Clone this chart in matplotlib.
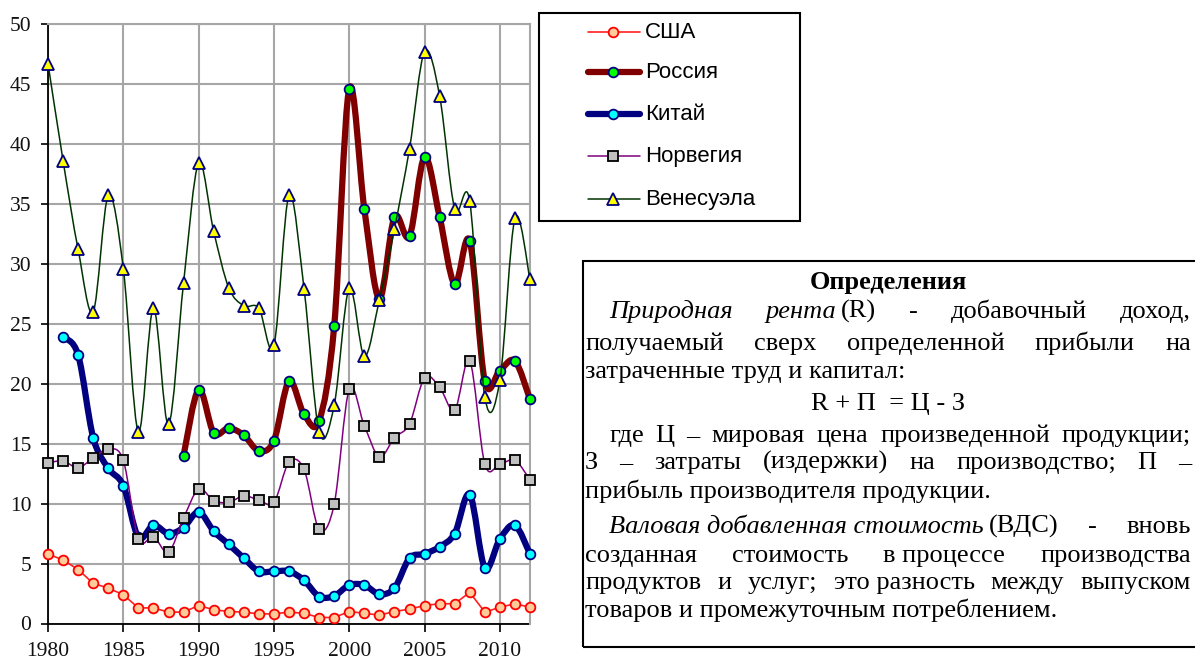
import numpy as np
import matplotlib
matplotlib.use("Agg")
import matplotlib.pyplot as plt
from matplotlib.path import Path
from matplotlib.patches import PathPatch, Rectangle
from matplotlib.lines import Line2D

W, H = 1195, 663
plt.rcParams["font.family"] = ["Liberation Serif", "DejaVu Serif"]

# --- data ---
years = list(range(1980, 2013))
usa = [5.8, 5.3, 4.5, 3.35, 2.95, 2.4, 1.3, 1.3, 0.95, 0.95, 1.5, 1.15, 1.0, 0.95, 0.8, 0.8,
       0.95, 0.85, 0.5, 0.5, 1.0, 0.85, 0.7, 1.0, 1.2, 1.5, 1.65, 1.65, 2.6, 0.95, 1.35, 1.65, 1.35]
russia_years = list(range(1989, 2013))
russia = [14.0, 19.5, 15.9, 16.3, 15.7, 14.4, 15.25, 20.2, 17.45, 16.9, 24.8, 44.6, 34.6, 27.1,
          33.9, 32.3, 38.9, 33.9, 28.3, 31.9, 20.2, 21.1, 21.9, 18.7]
china_years = list(range(1981, 2013))
china = [23.9, 22.4, 15.5, 12.95, 11.5, 7.2, 8.2, 7.5, 8.0, 9.3, 7.7, 6.6, 5.45, 4.35, 4.35, 4.35,
         3.6, 2.25, 2.3, 3.2, 3.2, 2.45, 2.95, 5.45, 5.8, 6.4, 7.5, 10.75, 4.65, 7.05, 8.2, 5.8]
norway = [13.4, 13.55, 13.0, 13.8, 14.55, 13.6, 7.05, 7.25, 5.95, 8.8, 11.2, 10.25, 10.1, 10.65,
          10.3, 10.1, 13.45, 12.85, 7.85, 9.95, 19.55, 16.5, 13.9, 15.5, 16.65, 20.5, 19.7, 17.8,
          21.9, 13.3, 13.3, 13.6, 12.0]
venezuela = [46.7, 38.6, 31.2, 26.0, 35.7, 29.6, 16.0, 26.3, 16.6, 28.4, 38.4, 32.7, 28.0, 26.5,
             26.3, 23.2, 35.7, 27.9, 16.0, 18.2, 28.0, 22.3, 27.0, 32.9, 39.6, 47.7, 44.0, 34.6,
             35.2, 18.9, 20.3, 33.8, 28.7]

# label, x, y, line color, line width, marker, marker face, marker edge, marker size, smoothed
series = [
    ("США", years, usa, "#ff2020", 1.2, "o", "#ffcc99", "#ff0000", 7, False),
    ("Россия", russia_years, russia, "#800000", 4.5, "o", "#00ff00", "#000080", 7, True),
    ("Китай", china_years, china, "#000080", 4.5, "o", "#00ffff", "#000080", 7, True),
    ("Норвегия", years, norway, "#800080", 1.1, "s", "#c0c0c0", "#000000", 7, True),
    ("Венесуэла", years, venezuela, "#003300", 1.1, "^", "#ffff00", "#000080", 8.5, True),
]


def smooth_path(x, y):
    # excel-like smoothed line: catmull-rom segments as cubic beziers
    pts = np.column_stack([x, y]).astype(float)
    n = len(pts)
    verts = [pts[0]]
    codes = [Path.MOVETO]
    for i in range(n - 1):
        p0 = pts[max(i - 1, 0)]
        p1 = pts[i]
        p2 = pts[i + 1]
        p3 = pts[min(i + 2, n - 1)]
        verts += [p1 + (p2 - p0) / 6, p2 - (p3 - p1) / 6, p2]
        codes += [Path.CURVE4] * 3
    return Path(verts, codes)


fig = plt.figure(figsize=(W / 100, H / 100), dpi=100)
ax = fig.add_axes([48 / W, 39.5 / H, 482 / W, 599.5 / H])

for i, (lab, xs, ys, c, lw, m, mf, me, ms, sm) in enumerate(series):
    z = 3 + i
    if sm:
        ax.add_patch(PathPatch(smooth_path(xs, ys), fill=False, edgecolor=c, lw=lw,
                               capstyle="round", joinstyle="round", zorder=z, clip_on=False))
    else:
        ax.plot(xs, ys, color=c, lw=lw, zorder=z, clip_on=False)
    ax.plot(xs, ys, ls="none", marker=m, ms=ms, mfc=mf, mec=me, mew=1.3, zorder=z, clip_on=False)

ax.set_xlim(1980, 2012)
ax.set_ylim(0, 50)
ax.set_xticks(range(1980, 2011, 5))
ax.set_yticks(range(0, 51, 5))
ax.grid(True, color="#a6a6a6", lw=1.5, zorder=0)
ax.set_axisbelow(True)
for s in ["top", "right"]:
    ax.spines[s].set_color("#a6a6a6")
    ax.spines[s].set_linewidth(1.5)
for s in ["left", "bottom"]:
    ax.spines[s].set_color("black")
    ax.spines[s].set_linewidth(1.3)
    ax.spines[s].set_zorder(2)
ax.tick_params(axis="y", length=5, width=1.2, pad=7, labelsize=15.5, labelcolor="#111111",
               labelfontfamily="Liberation Serif")
ax.tick_params(axis="x", length=6, width=1.2, pad=7, labelsize=15.5, labelcolor="#111111",
               labelfontfamily="Liberation Serif")


def fx(px):
    return px / W


def fy(py):
    return 1 - py / H


# --- legend box, drawn by hand to match the reference spacing ---
fig.add_artist(Rectangle((fx(539), fy(221)), fx(800 - 539), (221 - 13) / H, transform=fig.transFigure,
                         fill=False, ec="black", lw=1.5))
legend_rows = [32, 72, 114, 156, 199]
for (lab, xs, ys, c, lw, m, mf, me, ms, sm), ry in zip(series, legend_rows):
    fig.add_artist(Line2D([fx(588), fx(640)], [fy(ry), fy(ry)], transform=fig.transFigure,
                          color=c, lw=lw, solid_capstyle="round"))
    fig.add_artist(Line2D([fx(613)], [fy(ry)], transform=fig.transFigure, ls="none",
                          marker=m, ms=ms, mfc=mf, mec=me, mew=1.3))
    fig.text(fx(645), fy(ry), lab, fontsize=16, family="Liberation Sans", va="center", ha="left")

# --- definitions box ---
fig.add_artist(Rectangle((fx(583), fy(647)), fx(1200 - 583), (647 - 261) / H, transform=fig.transFigure,
                         fill=False, ec="black", lw=1.5))

FS = 19
text_left, text_right, indent = 585, 1191, 24
# (mode, tokens, baseline px, indent?) ; token = (text, style, glued to previous)
text_lines = [
    ("center", [("Определения", "b", False)], 289, False),
    ("justify", [("Природная", "i", False), ("рента", "i", False), ("(R)", "n", True), ("-", "n", False),
                 ("добавочный", "n", False), ("доход,", "n", False)], 318, True),
    ("justify", [("получаемый", "n", False), ("сверх", "n", False), ("определенной", "n", False),
                 ("прибыли", "n", False), ("на", "n", False)], 350, False),
    ("left", [("затраченные труд и капитал:", "n", False)], 378, False),
    ("center", [("R + П  = Ц - З", "n", False)], 410, False),
    ("justify", [("где", "n", False), ("Ц", "n", False), ("–", "n", False), ("мировая", "n", False),
                 ("цена", "n", False), ("произведенной", "n", False), ("продукции;", "n", False)], 442, True),
    ("justify", [("З", "n", False), ("–", "n", False), ("затраты", "n", False), ("(издержки)", "n", False),
                 ("на", "n", False), ("производство;", "n", False), ("П", "n", False), ("–", "n", False)],
     469, False),
    ("left", [("прибыль производителя продукции.", "n", False)], 498, False),
    ("justify", [("Валовая добавленная стоимость", "i", False), ("(ВДС)", "n", True), ("-", "n", False),
                 ("вновь", "n", False)], 533, True),
    ("justify", [("созданная", "n", False), ("стоимость", "n", False), ("в процессе", "n", False),
                 ("производства", "n", False)], 562, False),
    ("justify", [("продуктов", "n", False), ("и", "n", False), ("услуг;", "n", False),
                 ("это разность", "n", False), ("между", "n", False), ("выпуском", "n", False)], 589, False),
    ("left", [("товаров и промежуточным потреблением.", "n", False)], 617, False),
]

renderer = fig.canvas.get_renderer()
style_kw = {"n": {}, "i": {"style": "italic"}, "b": {"weight": "bold"}}
glue_gap = 5
for mode, tokens, base, ind in text_lines:
    arts, widths = [], []
    for txt, st, glued in tokens:
        t = fig.text(0, fy(base), txt, fontsize=FS, family="Liberation Serif", va="baseline", ha="left",
                     **style_kw[st])
        arts.append(t)
        widths.append(t.get_window_extent(renderer).width)
    start = text_left + (indent if ind else 0)
    # group glued tokens into words
    words = []
    for a, w, tok in zip(arts, widths, tokens):
        if tok[2] and words:
            words[-1].append((a, w))
        else:
            words.append([(a, w)])
    word_w = [sum(w for _, w in wd) + glue_gap * (len(wd) - 1) for wd in words]
    total = sum(word_w)
    if mode == "center":
        x = (text_left + text_right) / 2 - total / 2
        gap = 0
    elif mode == "justify" and len(words) > 1:
        x = start
        gap = (text_right - start - total) / (len(words) - 1)
    else:
        x = start
        gap = 0
    for wd, ww in zip(words, word_w):
        xx = x
        for a, w in wd:
            a.set_x(fx(xx))
            xx += w + glue_gap
        x += ww + gap

fig.savefig("out.png", dpi=100)
